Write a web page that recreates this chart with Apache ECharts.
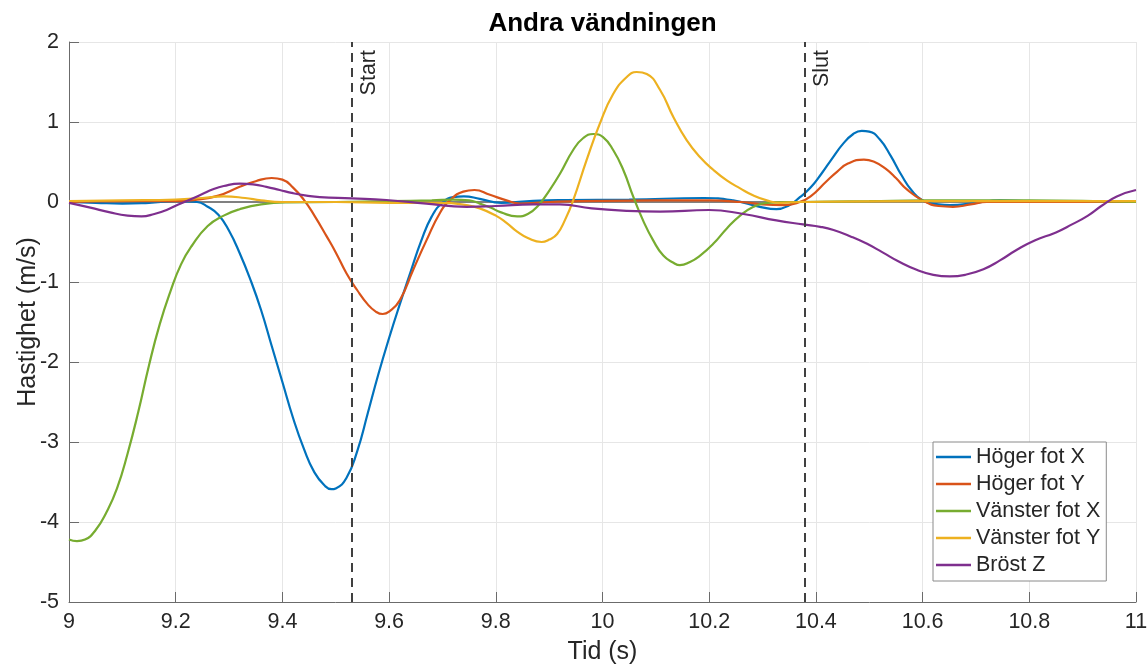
<!DOCTYPE html>
<html>
<head>
<meta charset="utf-8">
<script src="https://cdn.jsdelivr.net/npm/echarts@6/dist/echarts.min.js"></script>
<style>
html,body{margin:0;padding:0;background:#fff;}
#chart{width:1148px;height:664px;}
</style>
</head>
<body>
<div id="chart"></div>
<script>
// ---- Data (time s, velocity m/s) ----
const seriesNames = ['Höger fot X', 'Höger fot Y', 'Vänster fot X', 'Vänster fot Y', 'Bröst Z'];

const hogerFotX = [[9.00,0],[9.05,-0.01],[9.10,-0.02],[9.15,-0.01],[9.20,0.01],[9.24,0.0],[9.26,-0.06],[9.28,-0.16],[9.30,-0.36],[9.32,-0.64],[9.34,-0.97],[9.36,-1.35],[9.38,-1.80],[9.40,-2.25],[9.42,-2.70],[9.44,-3.08],[9.46,-3.38],[9.48,-3.55],[9.492,-3.59],[9.50,-3.58],[9.52,-3.45],[9.54,-3.12],[9.56,-2.64],[9.58,-2.15],[9.60,-1.70],[9.62,-1.28],[9.64,-0.88],[9.66,-0.49],[9.68,-0.18],[9.70,-0.01],[9.72,0.06],[9.74,0.07],[9.77,0.04],[9.81,-0.01],[9.87,0.015],[9.93,0.025],[10.05,0.03],[10.19,0.05],[10.245,0.02],[10.295,-0.06],[10.326,-0.09],[10.35,-0.04],[10.37,0.06],[10.39,0.18],[10.41,0.35],[10.43,0.54],[10.45,0.72],[10.47,0.85],[10.486,0.89],[10.50,0.88],[10.52,0.78],[10.54,0.58],[10.56,0.34],[10.58,0.14],[10.60,0.02],[10.63,-0.03],[10.651,-0.04],[10.70,-0.01],[10.745,0.02],[10.80,0.01],[10.85,0.0],[11.0,0.0]];

const hogerFotY = [[9.00,0],[9.10,0.01],[9.20,0.01],[9.24,0.03],[9.28,0.08],[9.32,0.19],[9.35,0.26],[9.38,0.30],[9.40,0.28],[9.42,0.18],[9.44,0.03],[9.46,-0.17],[9.483,-0.43],[9.50,-0.63],[9.52,-0.89],[9.54,-1.10],[9.56,-1.28],[9.575,-1.37],[9.588,-1.40],[9.60,-1.37],[9.62,-1.23],[9.645,-0.85],[9.67,-0.48],[9.695,-0.14],[9.714,0.02],[9.739,0.13],[9.76,0.15],[9.789,0.09],[9.82,0.02],[9.846,-0.02],[9.90,0.0],[10.0,0.015],[10.2,0.02],[10.26,0.0],[10.30,-0.03],[10.34,-0.04],[10.37,0.0],[10.39,0.07],[10.42,0.26],[10.44,0.38],[10.46,0.48],[10.49,0.53],[10.51,0.50],[10.53,0.42],[10.55,0.30],[10.57,0.16],[10.60,0.02],[10.63,-0.05],[10.657,-0.06],[10.69,-0.03],[10.72,0.0],[10.80,0.0],[11.0,0.0]];

const vansterFotX = [[9.00,-4.22],[9.015,-4.24],[9.03,-4.22],[9.05,-4.10],[9.07,-3.88],[9.09,-3.58],[9.11,-3.14],[9.13,-2.62],[9.15,-2.04],[9.17,-1.53],[9.19,-1.12],[9.21,-0.78],[9.23,-0.55],[9.26,-0.30],[9.29,-0.17],[9.32,-0.09],[9.36,-0.03],[9.41,-0.005],[9.50,0.0],[9.60,0.01],[9.68,0.02],[9.72,0.03],[9.75,0.02],[9.77,-0.02],[9.79,-0.07],[9.81,-0.13],[9.84,-0.18],[9.86,-0.15],[9.88,-0.04],[9.90,0.14],[9.92,0.35],[9.945,0.65],[9.964,0.80],[9.983,0.85],[10.001,0.81],[10.02,0.65],[10.039,0.40],[10.058,0.06],[10.076,-0.23],[10.095,-0.48],[10.114,-0.67],[10.133,-0.76],[10.145,-0.79],[10.164,-0.75],[10.183,-0.67],[10.208,-0.52],[10.233,-0.33],[10.258,-0.17],[10.283,-0.06],[10.308,-0.01],[10.36,0.0],[10.50,0.01],[10.60,0.02],[10.80,0.02],[11.0,0.0]];

const vansterFotY = [[9.00,0.01],[9.10,0.02],[9.20,0.03],[9.25,0.05],[9.29,0.07],[9.33,0.05],[9.36,0.02],[9.40,0.0],[9.50,0.0],[9.60,-0.01],[9.70,-0.01],[9.745,-0.04],[9.77,-0.08],[9.80,-0.17],[9.82,-0.26],[9.84,-0.37],[9.86,-0.45],[9.886,-0.50],[9.90,-0.47],[9.915,-0.40],[9.93,-0.22],[9.945,0.02],[9.97,0.52],[9.995,0.98],[10.02,1.35],[10.045,1.56],[10.064,1.625],[10.083,1.60],[10.108,1.40],[10.133,1.06],[10.158,0.77],[10.183,0.56],[10.208,0.40],[10.233,0.27],[10.258,0.17],[10.283,0.08],[10.308,0.02],[10.333,-0.01],[10.37,0.0],[10.60,0.01],[11.0,0.01]];

const brostZ = [[9.00,-0.01],[9.04,-0.07],[9.077,-0.13],[9.11,-0.17],[9.136,-0.18],[9.16,-0.15],[9.183,-0.10],[9.205,-0.03],[9.227,0.03],[9.25,0.10],[9.27,0.16],[9.29,0.20],[9.32,0.23],[9.345,0.22],[9.37,0.19],[9.395,0.15],[9.42,0.11],[9.445,0.08],[9.47,0.06],[9.53,0.045],[9.595,0.025],[9.67,-0.02],[9.745,-0.06],[9.80,-0.05],[9.87,-0.03],[9.92,-0.03],[9.98,-0.08],[10.045,-0.11],[10.108,-0.12],[10.20,-0.10],[10.264,-0.15],[10.326,-0.23],[10.376,-0.28],[10.408,-0.31],[10.433,-0.35],[10.465,-0.43],[10.495,-0.52],[10.525,-0.63],[10.557,-0.75],[10.59,-0.85],[10.62,-0.91],[10.651,-0.93],[10.68,-0.91],[10.714,-0.84],[10.745,-0.73],[10.776,-0.60],[10.81,-0.48],[10.85,-0.38],[10.88,-0.28],[10.91,-0.17],[10.935,-0.05],[10.964,0.07],[11.0,0.15]];

const zeroLine = [[9,0],[11,0]];
const eventNames = ['Start', 'Slut'];
const eventTimes = [9.53, 10.38];

const xMin = 9, xMax = 11, xStep = 0.2;
const yMin = -5, yMax = 2, yStep = 1;

const colors = ['#0072BD', '#D95319', '#77AC30', '#EDB120', '#7E2F8E'];
const allData = [hogerFotX, hogerFotY, vansterFotX, vansterFotY, brostZ];

const FONT = "'Liberation Sans', Arial, Helvetica, sans-serif";
const TXT = '#262626';

const chart = echarts.init(document.getElementById('chart'), null, {renderer: 'canvas'});

const series = [{
  name: 'zero',
  type: 'line',
  data: zeroLine,
  symbol: 'none',
  silent: true,
  lineStyle: {color: '#808080', width: 2},
  z: 1
}];

allData.forEach((d, i) => {
  series.push({
    name: seriesNames[i],
    type: 'line',
    data: d,
    smooth: 0.5,
    symbol: 'none',
    color: colors[i],
    itemStyle: {color: colors[i]},
    lineStyle: {color: colors[i], width: 2.2},
    z: 3
  });
});

series.push({
  name: 'events',
  type: 'line',
  data: [],
  symbol: 'none',
  z: 4,
  markLine: {
    silent: true,
    symbol: ['none', 'none'],
    animation: false,
    lineStyle: {color: '#404040', width: 2, type: [9, 6]},
    label: {
      show: true,
      position: 'insideEndBottom',
      formatter: p => p.name,
      fontFamily: FONT,
      fontSize: 21.5,
      color: TXT,
      distance: [8, 6]
    },
    data: eventNames.map((n, i) => ({name: n, xAxis: eventTimes[i]}))
  }
});

chart.setOption({
  animation: false,
  textStyle: {fontFamily: FONT},
  title: {
    text: 'Andra vändningen',
    left: 602.5,
    top: 11,
    padding: 0,
    textAlign: 'center',
    textStyle: {fontFamily: FONT, fontSize: 26, fontWeight: 'bold', color: '#000'}
  },
  grid: {left: 69, right: 12, top: 42, bottom: 62, containLabel: false, outerBoundsMode: 'none'},
  legend: {
    data: seriesNames,
    orient: 'vertical',
    left: 933,
    top: 442,
    padding: [4, 6, 5, 3],
    itemGap: 5,
    itemWidth: 35,
    itemHeight: 2.5,
    icon: 'rect',
    backgroundColor: '#fff',
    borderColor: '#8a8a8a',
    borderWidth: 1,
    borderRadius: 0,
    textStyle: {fontFamily: FONT, fontSize: 21.5, color: TXT, lineHeight: 22}
  },
  xAxis: {
    type: 'value',
    min: xMin, max: xMax, interval: xStep,
    name: 'Tid (s)',
    nameLocation: 'middle',
    nameGap: 38,
    nameTextStyle: {fontFamily: FONT, fontSize: 25, color: TXT},
    axisLine: {show: true, onZero: false, lineStyle: {color: '#6b6b6b', width: 1}},
    axisTick: {show: true, inside: true, length: 10, lineStyle: {color: '#6b6b6b'}},
    axisLabel: {fontFamily: FONT, fontSize: 21.5, color: TXT, margin: 9,
      formatter: v => String(+v.toFixed(1))},
    splitLine: {show: true, lineStyle: {color: '#e6e6e6', width: 1}}
  },
  yAxis: {
    type: 'value',
    min: yMin, max: yMax, interval: yStep,
    name: 'Hastighet (m/s)',
    nameLocation: 'middle',
    nameGap: 28,
    nameMoveOverlap: false,
    nameRotate: 90,
    nameTextStyle: {fontFamily: FONT, fontSize: 25, color: TXT},
    axisLine: {show: true, onZero: false, lineStyle: {color: '#6b6b6b', width: 1}},
    axisTick: {show: true, inside: true, length: 10, lineStyle: {color: '#6b6b6b'}},
    axisLabel: {fontFamily: FONT, fontSize: 21.5, color: TXT, margin: 10,
      formatter: v => String(+v.toFixed(1))},
    splitLine: {show: true, lineStyle: {color: '#e6e6e6', width: 1}}
  },
  series: series
});
</script>
</body>
</html>
